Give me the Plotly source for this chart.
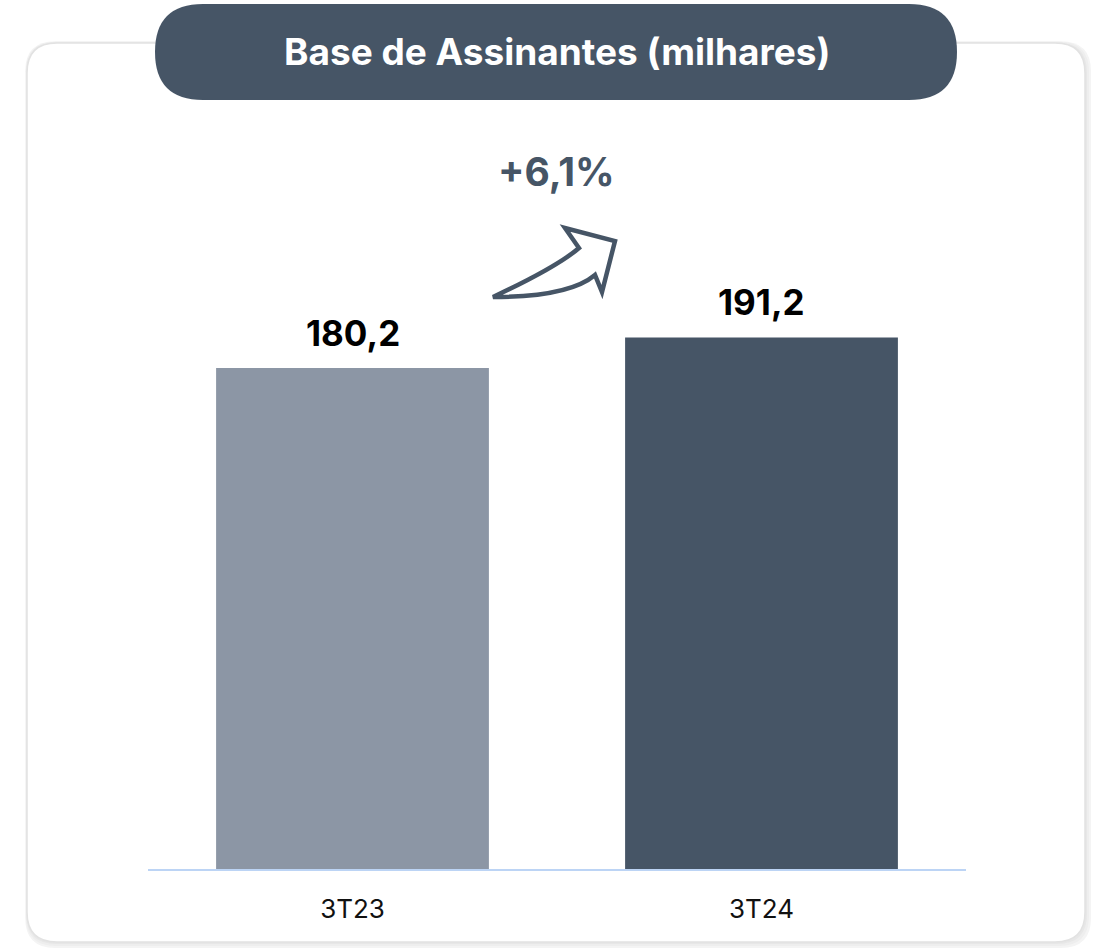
import plotly.graph_objects as go

categories = ["3T23", "3T24"]
values = [180.2, 191.2]
value_labels = ["180,2", "191,2"]
bar_colors = ["#8c96a5", "#465566"]
title_text = "Base de Assinantes (milhares)"
growth_text = "+6,1%"

W, H = 1105, 948
L, R, T, B = 148, 139, 100, 79
PW, PH = W - L - R, H - T - B
YMAX = PH / 2.78

def px(x, y):
    return ((x - L) / PW, (H - B - y) / PH)

def pt(x, y):
    a, b = px(x, y)
    return f"{a:.5f},{b:.5f}"

def rrect(x0, y0, x1, y1, r):
    return (f"M {pt(x0+r,y0)} L {pt(x1-r,y0)} Q {pt(x1,y0)} {pt(x1,y0+r)} "
            f"L {pt(x1,y1-r)} Q {pt(x1,y1)} {pt(x1-r,y1)} L {pt(x0+r,y1)} "
            f"Q {pt(x0,y1)} {pt(x0,y1-r)} L {pt(x0,y0+r)} Q {pt(x0,y0)} {pt(x0+r,y0)} Z")

fig = go.Figure(go.Bar(
    x=categories, y=values, marker=dict(color=bar_colors, line=dict(width=0)),
    width=0.667, hoverinfo="skip"))

shapes = []
# card shadow
for off, col in [(6, "#f4f4f4"), (4, "#eeeeee"), (2, "#e7e7e7")]:
    shapes.append(dict(type="path", xref="paper", yref="paper", layer="below",
                       path=rrect(27 - off * 0.3, 43 - off * 0.3, 1085 + off, 942 + off, 30),
                       fillcolor=col, line=dict(width=0)))
shapes.append(dict(type="path", xref="paper", yref="paper", layer="below",
                   path=rrect(27, 43, 1085, 942, 30),
                   fillcolor="white", line=dict(color="#e2e2e2", width=1.5)))
# title pill
shapes.append(dict(type="path", xref="paper", yref="paper", layer="below",
                   path=rrect(155, 4, 957, 100, 48),
                   fillcolor="#465566", line=dict(width=0)))
# growth arrow
arrow = (f"M {pt(493,297)} Q {pt(557,267)} {pt(579,248)} L {pt(565,228)} L {pt(615,241)} "
         f"L {pt(602,292)} L {pt(595,275)} Q {pt(569,297)} {pt(493,297)} Z")
shapes.append(dict(type="path", xref="paper", yref="paper", path=arrow,
                   fillcolor="white", line=dict(color="#465566", width=4.5)))

annotations = []
for c, v, t in zip(categories, values, value_labels):
    annotations.append(dict(x=c, y=v, xref="x", yref="y", text=f"<b>{t}</b>",
                            showarrow=False, xanchor="center", yanchor="bottom", yshift=12,
                            font=dict(family="Inter", size=35, color="#000000")))
gx, gy = px(556, 171)
annotations.append(dict(x=gx, y=gy, xref="paper", yref="paper", text=f"<b>{growth_text}</b>",
                        showarrow=False, xanchor="center", yanchor="middle",
                        font=dict(family="Inter", size=39, color="#465566")))
tx, ty = px(557, 52)
annotations.append(dict(x=tx, y=ty, xref="paper", yref="paper", text=f"<b>{title_text}</b>",
                        showarrow=False, xanchor="center", yanchor="middle",
                        font=dict(family="Inter", size=37, color="white")))

fig.update_layout(
    width=W, height=H, margin=dict(l=L, r=R, t=T, b=B),
    paper_bgcolor="white", plot_bgcolor="rgba(0,0,0,0)",
    showlegend=False, shapes=shapes, annotations=annotations,
    bargap=0.333,
    xaxis=dict(range=[-0.5, 1.5], showline=True, linecolor="#bcd4f5", linewidth=2,
               showgrid=False, zeroline=False, ticks="", ticklabelstandoff=16,
               tickfont=dict(family="Inter", size=26, color="#111111")),
    yaxis=dict(range=[0, YMAX], visible=False, showgrid=False, zeroline=False),
)

fig.write_html("out.html", config={"displayModeBar": False},
               post_script="document.body.style.margin='0';")
